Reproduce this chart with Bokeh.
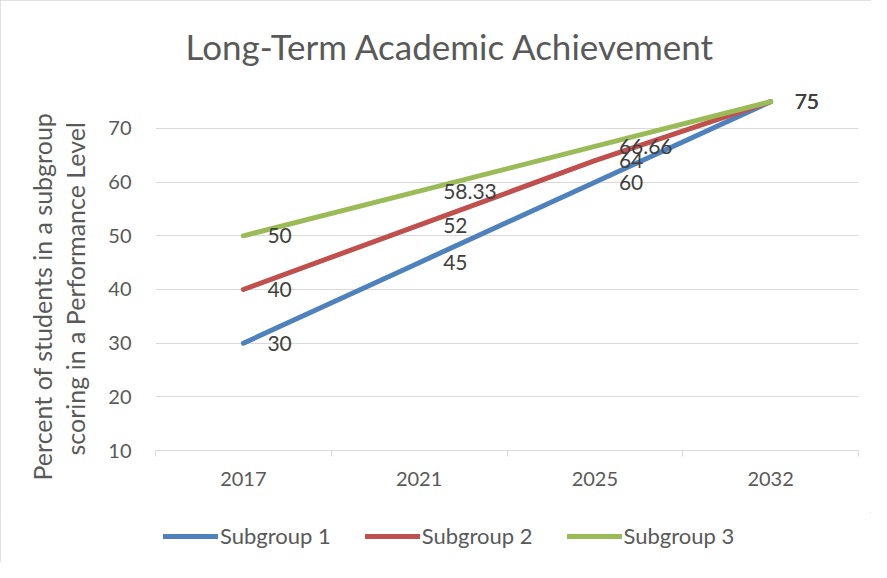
from bokeh.plotting import figure
from bokeh.layouts import column
from bokeh.models import Range1d, FixedTicker, Legend, LegendItem, Title
from bokeh.core.properties import value
from bokeh.embed import file_html
from bokeh.resources import INLINE

years = ["2017", "2021", "2025", "2032"]
subgroup1 = [30, 45, 60, 75]
subgroup2 = [40, 52, 64, 75]
subgroup3 = [50, 58.33, 66.66, 75]
series_names = ["Subgroup 1", "Subgroup 2", "Subgroup 3"]
y_ticks = [10, 20, 30, 40, 50, 60, 70]
y_title_lines = ["Percent of students in a subgroup", "scoring in a Performance Level"]
colors = ["#4F81BD", "#C0504D", "#9BBB59"]

FONT = "Lato"
GREY = "#595959"

xs = [i + 0.5 for i in range(len(years))]
all_series = [subgroup1, subgroup2, subgroup3]

p = figure(width=871, height=512, output_backend="svg", toolbar_location=None,
           x_range=Range1d(0, len(years)), y_range=Range1d(10, 77.45),
           min_border_left=155, min_border_right=13, min_border_top=80,
           min_border_bottom=62)
p.outline_line_color = None

p.title.text = "Long-Term Academic Achievement"
p.title.align = "left"
p.title.offset = 30
p.title.standoff = 43.5
p.title.text_font = FONT
p.title.text_font_size = "35px"
p.title.text_font_style = "normal"
p.title.text_color = GREY

# y axis
p.yaxis.ticker = FixedTicker(ticks=y_ticks)
p.yaxis.axis_line_color = None
p.yaxis.major_tick_line_color = None
p.yaxis.minor_tick_line_color = None
p.yaxis.major_label_text_font = FONT
p.yaxis.major_label_text_font_size = "20px"
p.yaxis.major_label_text_color = GREY
p.yaxis.major_label_standoff = 18

# two-line y axis title (inner line first, stacked outward)
for line, off, so in [(y_title_lines[1], -5, 32), (y_title_lines[0], -30, -30)]:
    t = Title(text=line, align="left", offset=off, standoff=so,
              text_font=FONT, text_font_size="25px", text_font_style="normal",
              text_color=GREY)
    p.add_layout(t, "left")

# x axis
p.xaxis.ticker = FixedTicker(ticks=xs, minor_ticks=list(range(len(years) + 1)))
p.xaxis.major_label_overrides = {x: y for x, y in zip(xs, years)}
p.xaxis.axis_line_color = "#d9d9d9"
p.xaxis.major_tick_line_color = None
p.xaxis.major_tick_out = 0
p.xaxis.major_tick_in = 0
p.xaxis.minor_tick_line_color = "#d9d9d9"
p.xaxis.minor_tick_out = 6
p.xaxis.minor_tick_in = 0
p.xaxis.major_label_text_font = FONT
p.xaxis.major_label_text_font_size = "20px"
p.xaxis.major_label_text_color = GREY
p.xaxis.major_label_standoff = 15

p.xgrid.visible = False
p.ygrid.grid_line_color = "#d9d9d9"

for vals, c in zip(all_series, colors):
    p.line(xs, vals, line_width=5, line_color=c, line_cap="round")

for vals in all_series:
    p.text(x=xs, y=vals, text=[f"{v:g}" for v in vals], x_offset=24,
           text_baseline="middle", text_align="left", text_font=value(FONT),
           text_font_size="21px", text_color="#404040")

# legend strip (series drawn out of view, only their legend entries show)
lg = figure(width=871, height=50, output_backend="svg", toolbar_location=None,
            x_range=Range1d(0, len(years)), y_range=Range1d(500, 501),
            x_axis_location=None, y_axis_location=None, min_border=0,
            min_border_left=0, min_border_right=0, min_border_top=0,
            min_border_bottom=0)
lg.outline_line_color = None
lg.xgrid.visible = False
lg.ygrid.visible = False
items = []
for name, vals, c in zip(series_names, all_series, colors):
    r = lg.line(xs, vals, line_width=5, line_color=c, line_cap="round")
    items.append(LegendItem(label=name, renderers=[r]))

legend = Legend(items=items, orientation="horizontal", location=(8, 13),
                glyph_width=55, glyph_height=20, label_standoff=2, spacing=34,
                padding=8, margin=0, border_line_color=None,
                background_fill_alpha=0,
                label_text_font=FONT, label_text_font_size="22px",
                label_text_color=GREY)
lg.add_layout(legend)

layout = column(p, lg, spacing=0)
layout.styles = {"outline": "1px solid #d9d9d9", "outline-offset": "-1px"}

open("out.html", "w").write(file_html(layout, INLINE))
